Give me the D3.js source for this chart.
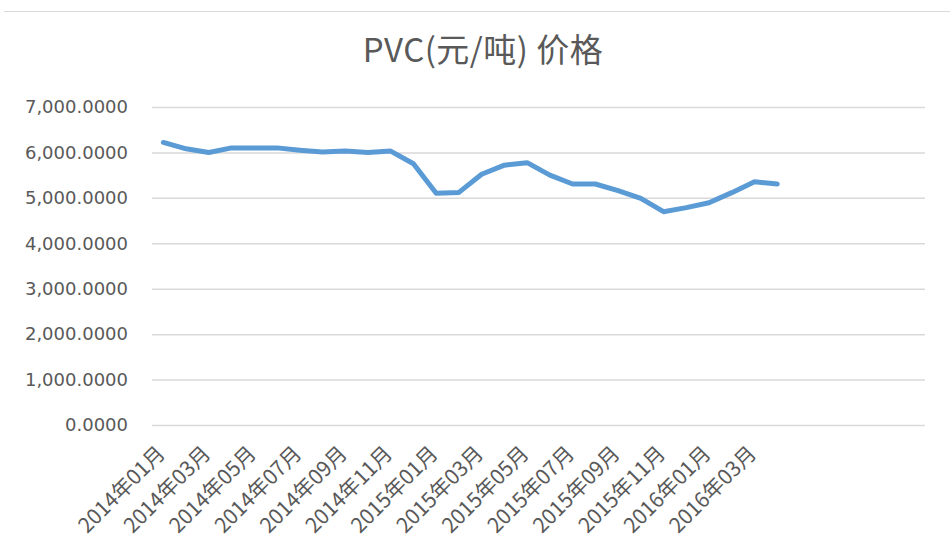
<!DOCTYPE html>
<html><head><meta charset="utf-8">
<script src="https://cdn.jsdelivr.net/npm/d3@7"></script>
<style>body{margin:0;background:#fff}</style>
</head><body>
<svg id="c" width="950" height="540"></svg>
<script>
const title = "PVC(元/吨) 价格";
const categories = [
 "2014年01月","2014年02月","2014年03月","2014年04月","2014年05月","2014年06月",
 "2014年07月","2014年08月","2014年09月","2014年10月","2014年11月","2014年12月",
 "2015年01月","2015年02月","2015年03月","2015年04月","2015年05月","2015年06月",
 "2015年07月","2015年08月","2015年09月","2015年10月","2015年11月","2015年12月",
 "2016年01月","2016年02月","2016年03月","2016年04月",
 "","","","","",""];
const values = [6220,6080,6000,6100,6100,6100,6050,6010,6030,6000,6030,5750,
 5100,5120,5520,5720,5775,5500,5305,5305,5160,4990,4695,4785,4893,5115,5355,5305];
const yTicks = [0,1000,2000,3000,4000,5000,6000,7000];

const svg = d3.select("#c");
const W=950,H=540;
const m={left:152,right:25,top:107,bottom:115};
const x = d3.scaleBand().domain(d3.range(categories.length)).range([m.left,W-m.right]);
const y = d3.scaleLinear().domain([0,7000]).range([H-m.bottom,m.top]);

svg.append("line").attr("x1",4).attr("x2",W).attr("y1",11.5).attr("y2",11.5)
  .attr("stroke","#d9d9d9").attr("stroke-width",1);

svg.append("text").attr("x",483).attr("y",62).attr("text-anchor","middle")
  .attr("font-family","'Noto Sans CJK SC','Noto Sans',sans-serif").attr("font-size",33)
  .attr("letter-spacing",0.5)
  .attr("fill","#595959").text(title);

const fmt = d3.format(",.4f");
const ya = svg.append("g").attr("transform",`translate(${m.left},0)`)
  .call(d3.axisLeft(y).tickValues(yTicks).tickSize(-(W-m.left-m.right)).tickPadding(24).tickFormat(fmt));
ya.select(".domain").remove();
ya.selectAll(".tick line").attr("stroke","#d9d9d9").attr("stroke-width",1.5);
ya.selectAll(".tick text").attr("fill","#595959").attr("font-size",18)
  .attr("font-family","'DejaVu Sans',sans-serif");

const xa = svg.append("g").attr("transform",`translate(0,${H-m.bottom})`)
  .call(d3.axisBottom(x).tickValues(d3.range(0,categories.length,2).filter(i=>categories[i]!==""))
    .tickSize(0).tickFormat(i=>categories[i]));
xa.select(".domain").remove();
xa.selectAll(".tick text").attr("fill","#595959").attr("font-size",21)
  .attr("font-family","'Noto Sans CJK SC',sans-serif")
  .attr("text-anchor","end").attr("y",0).attr("dy",0).attr("dx",0)
  .attr("transform","translate(3,30) rotate(-45)");

const line = d3.line().x((d,i)=>x(i)+x.bandwidth()/2).y(d=>y(d));
svg.append("path").datum(values).attr("d",line).attr("fill","none")
  .attr("stroke","#5b9bd5").attr("stroke-width",5)
  .attr("stroke-linejoin","round").attr("stroke-linecap","round");
</script>
</body></html>
